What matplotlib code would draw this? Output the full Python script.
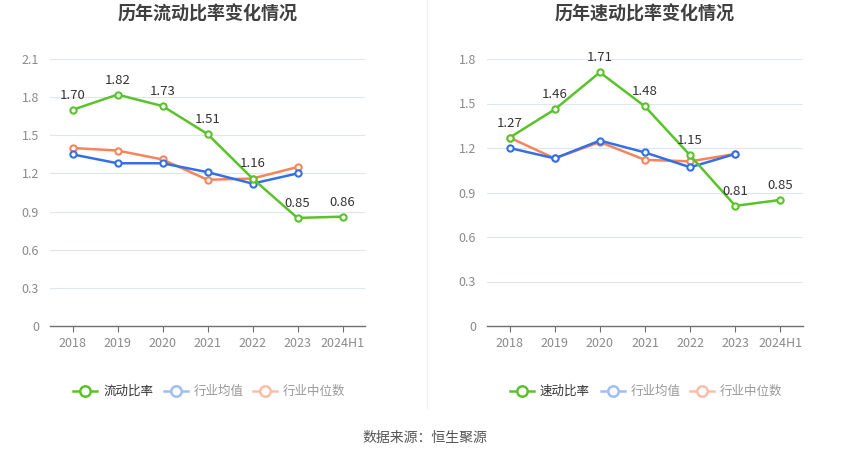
import matplotlib
matplotlib.use("Agg")
import matplotlib.pyplot as plt
from matplotlib.lines import Line2D

plt.rcParams['font.family'] = ['Noto Sans CJK SC', 'DejaVu Sans']

years = ["2018", "2019", "2020", "2021", "2022", "2023", "2024H1"]

current_ratio = [1.70, 1.82, 1.73, 1.51, 1.16, 0.85, 0.86]
current_ind_mean = [1.35, 1.28, 1.28, 1.21, 1.12, 1.20]
current_ind_median = [1.40, 1.38, 1.31, 1.15, 1.16, 1.25]

quick_ratio = [1.27, 1.46, 1.71, 1.48, 1.15, 0.81, 0.85]
quick_ind_mean = [1.20, 1.13, 1.25, 1.17, 1.07, 1.16]
quick_ind_median = [1.27, 1.13, 1.24, 1.12, 1.11, 1.16]

titles = ["历年流动比率变化情况", "历年速动比率变化情况"]
main_names = ["流动比率", "速动比率"]
ind_names = ["行业均值", "行业中位数"]
yticks_left = [0, 0.3, 0.6, 0.9, 1.2, 1.5, 1.8, 2.1]
yticks_right = [0, 0.3, 0.6, 0.9, 1.2, 1.5, 1.8]

GREEN = '#5ac22a'
BLUE = '#3370e6'
ORANGE = '#f7845a'
BLUE_L = '#a2bcf4'
ORANGE_L = '#fbbea8'

W, H = 850, 459
fig = plt.figure(figsize=(W / 100, H / 100), dpi=100)

def fx(px):
    return px / W

def fy(py):
    return 1 - py / H

panels = [
    (50, 365, current_ratio, current_ind_mean, current_ind_median, yticks_left, 2.1),
    (487, 803, quick_ratio, quick_ind_mean, quick_ind_median, yticks_right, 1.8),
]

for i, (x0, x1, main, mean, med, yt, ymax) in enumerate(panels):
    ax = fig.add_axes([fx(x0), fy(326), fx(x1) - fx(x0), fy(59) - fy(326)])
    xs = list(range(len(years)))
    ax.set_xlim(-0.5, len(years) - 0.5)
    ax.set_ylim(0, ymax)
    ax.set_yticks(yt)
    ax.set_yticklabels(["0" if v == 0 else f"{v:.1f}" for v in yt])
    ax.set_xticks(xs)
    ax.set_xticklabels(years)
    for v in yt[1:]:
        ax.axhline(v, color='#e0e6f1', lw=0.8, zorder=0)
    for s in ['top', 'right', 'left']:
        ax.spines[s].set_visible(False)
    ax.spines['bottom'].set_color('#6e7079')
    ax.spines['bottom'].set_linewidth(1)
    ax.tick_params(axis='y', length=0, pad=8, labelsize=9, labelcolor='#8a8a8a')
    ax.tick_params(axis='x', length=4, width=0.8, color='#6e7079', pad=4,
                   labelsize=9, labelcolor='#8a8a8a')
    mk = dict(marker='o', markersize=4.5, markerfacecolor='white', markeredgewidth=1.5)
    ax.plot(xs[:len(med)], med, color=ORANGE, lw=1.8, markeredgecolor=ORANGE, zorder=3, **mk)
    ax.plot(xs[:len(mean)], mean, color=BLUE, lw=1.8, markeredgecolor=BLUE, zorder=3, **mk)
    ax.plot(xs, main, color=GREEN, lw=1.8, markeredgecolor=GREEN, zorder=4, **mk)
    for x, v in zip(xs, main):
        ax.annotate(f"{v:.2f}", (x, v), xytext=(0, 10.5), textcoords='offset points',
                    ha='center', va='center', fontsize=9.5, color='#333333', zorder=5)
    cx = (x0 + x1) / 2
    fig.text(fx(cx), fy(14), titles[i], ha='center', va='center', fontsize=13,
             fontweight='bold', color='#404040')

    # legend
    ly = fy(391)
    items = [(x0 + 23, GREEN, main_names[i], '#333333'),
             (x0 + 114, BLUE_L, ind_names[0], '#999999'),
             (x0 + 203, ORANGE_L, ind_names[1], '#999999')]
    for lx, c, name, tc in items:
        fig.add_artist(Line2D([fx(lx), fx(lx + 24)], [ly, ly], color=c, lw=1.8,
                              transform=fig.transFigure))
        fig.add_artist(Line2D([fx(lx + 12)], [ly], color=c, marker='o', markersize=7.5,
                              markerfacecolor='white', markeredgewidth=1.8,
                              transform=fig.transFigure))
        fig.text(fx(lx + 30), ly, name, ha='left', va='center', fontsize=9, color=tc)

fig.add_artist(Line2D([fx(427), fx(427)], [fy(0), fy(408)], color='#eeeeee', lw=0.8,
                      transform=fig.transFigure))
fig.text(0.5, fy(438), "数据来源：恒生聚源", ha='center', va='center', fontsize=10,
         color='#555555')

fig.savefig("out.png", dpi=100, facecolor='white')
